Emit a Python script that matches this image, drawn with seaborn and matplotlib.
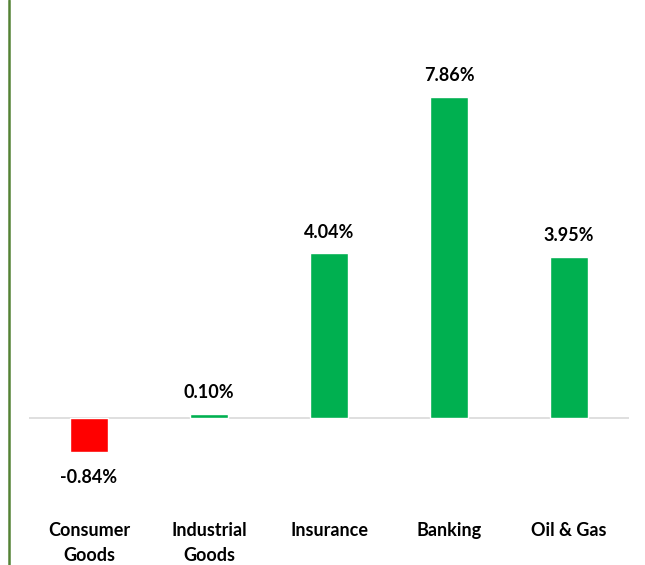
import matplotlib
matplotlib.use("Agg")
import matplotlib.pyplot as plt
import seaborn as sns
import pandas as pd

categories = ["Consumer\nGoods", "Industrial\nGoods", "Insurance", "Banking", "Oil & Gas"]
values = [-0.84, 0.10, 4.04, 7.86, 3.95]
bar_colors = ["#FF0000" if v < 0 else "#00B050" for v in values]
value_labels = [f"{v:.2f}%" for v in values]

sns.set_theme(style="white")
plt.rcParams["font.family"] = ["Lato", "DejaVu Sans"]

fig = plt.figure(figsize=(6.45, 5.65), dpi=100)
ax = fig.add_axes([29 / 645, (565 - 480) / 565, 600 / 645, 480 / 565])

df = pd.DataFrame({"cat": categories, "val": values})
sns.barplot(data=df, x="cat", y="val", hue="cat", palette=bar_colors,
            width=0.31, legend=False, ax=ax, saturation=1)

ax.set_xlim(-0.5, 4.5)
ax.set_ylim(-62 / 40.84, 418 / 40.84)
ax.axhline(0, color="#D9D9D9", lw=1.2, zorder=0)
for s in ax.spines.values():
    s.set_visible(False)
ax.set_yticks([])
ax.set_xlabel("")
ax.set_ylabel("")
ax.tick_params(axis="x", length=0, pad=30)
for lab in ax.get_xticklabels():
    lab.set_fontsize(13)
    lab.set_fontweight("bold")
    lab.set_color("#000000")
    lab.set_linespacing(1.6)

for i, (v, t) in enumerate(zip(values, value_labels)):
    if v >= 0:
        ax.annotate(t, (i, v), xytext=(0, 9), textcoords="offset points",
                    ha="center", va="bottom", fontsize=13, fontweight="bold", color="#000000")
    else:
        ax.annotate(t, (i, v), xytext=(0, -12), textcoords="offset points",
                    ha="center", va="top", fontsize=13, fontweight="bold", color="#000000")

fig.add_artist(plt.Line2D([9 / 645, 9 / 645], [0, 1], color="#548235", lw=1.8,
                          transform=fig.transFigure))

fig.savefig("out.png", dpi=100)
